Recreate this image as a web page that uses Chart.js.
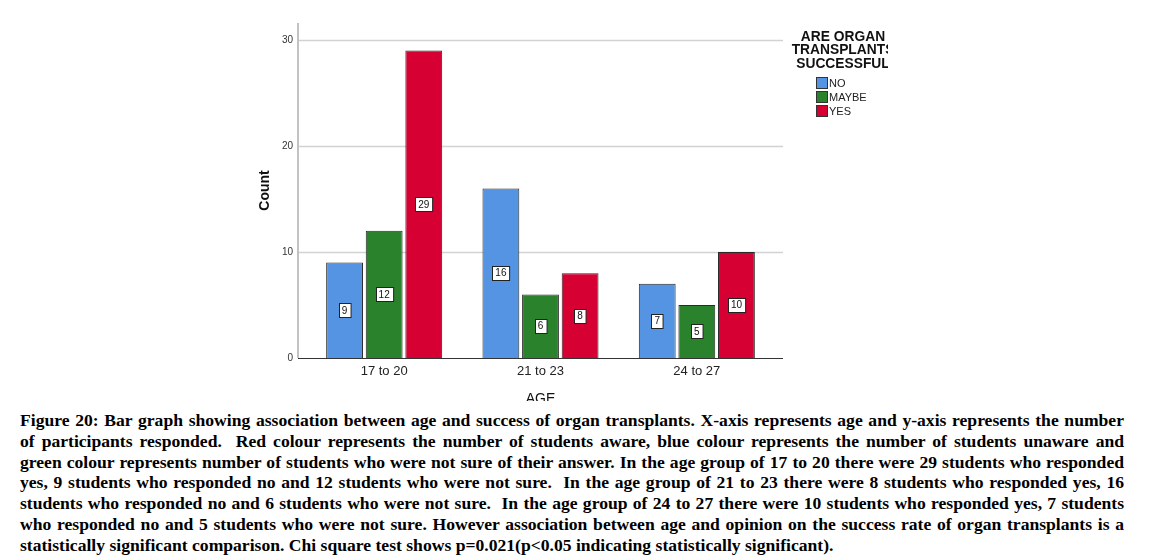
<!DOCTYPE html>
<html><head><meta charset="utf-8">
<script src="https://cdn.jsdelivr.net/npm/chart.js@4.4.0/dist/chart.umd.min.js"></script>
<style>
html,body{margin:0;padding:0;background:#fff;width:1166px;height:560px;overflow:hidden;}
#wrap{position:absolute;left:0;top:0;width:1166px;height:401px;overflow:hidden;}
#cv{display:block;}
#cap{position:absolute;left:20px;top:410px;width:1104px;font-family:"Liberation Serif","Times New Roman",serif;font-weight:bold;font-size:17.6px;line-height:20.8px;color:#000;}
#cap div{white-space:nowrap;text-align:justify;text-align-last:justify;}
#cap div.last{text-align-last:left;}
</style>
</head><body>
<div id="wrap"><canvas id="cv" width="1166" height="420"></canvas></div>
<div id="cap">
<div>Figure 20: Bar graph showing association between age and success of organ transplants. X-axis represents age and y-axis represents the number</div>
<div>of participants responded. &nbsp;Red colour represents the number of students aware, blue colour represents the number of students unaware and</div>
<div>green colour represents number of students who were not sure of their answer. In the age group of 17 to 20 there were 29 students who responded</div>
<div>yes, 9 students who responded no and 12 students who were not sure. &nbsp;In the age group of 21 to 23 there were 8 students who responded yes, 16</div>
<div>students who responded no and 6 students who were not sure. &nbsp;In the age group of 24 to 27 there were 10 students who responded yes, 7 students</div>
<div>who responded no and 5 students who were not sure. However association between age and opinion on the success rate of organ transplants is a</div>
<div class="last">statistically significant comparison. Chi square test shows p=0.021(p&lt;0.05 indicating statistically significant).</div>
</div>
<script>
const categories = ["17 to 20", "21 to 23", "24 to 27"];
const seriesNames = ["NO", "MAYBE", "YES"];
const noValues = [9, 16, 7];
const maybeValues = [12, 6, 5];
const yesValues = [29, 8, 10];
const yTicks = [0, 10, 20, 30];
const legendTitle = ["ARE ORGAN", "TRANSPLANTS", "SUCCESSFUL"];
const seriesColors = ["#5594e2", "#2a822d", "#d70032"];

const SANS = "'Liberation Sans', Arial, sans-serif";

const extrasPlugin = {
  id: 'extras',
  beforeDatasetsDraw(chart) {
    const ctx = chart.ctx, a = chart.chartArea, y = chart.scales.y;
    ctx.save();
    ctx.strokeStyle = '#d2d2d2';
    ctx.lineWidth = 1.5;
    yTicks.forEach(v => {
      if (v === 0) return;
      const py = Math.round(y.getPixelForValue(v)) + 0.5;
      ctx.beginPath(); ctx.moveTo(a.left - 8, py); ctx.lineTo(a.right + 8, py); ctx.stroke();
    });
    ctx.strokeStyle = '#c2c2c2';
    ctx.lineWidth = 2;
    ctx.beginPath(); ctx.moveTo(a.left - 8, a.top); ctx.lineTo(a.left - 8, a.bottom); ctx.stroke();
    ctx.restore();
  },
  afterDatasetsDraw(chart) {
    const ctx = chart.ctx, a = chart.chartArea;
    ctx.save();
    ctx.strokeStyle = '#333';
    ctx.lineWidth = 1;
    ctx.beginPath(); ctx.moveTo(a.left - 8, a.bottom + 0.5); ctx.lineTo(a.right + 8, a.bottom + 0.5); ctx.stroke();
    ctx.font = '10px ' + SANS;
    ctx.textAlign = 'center';
    ctx.textBaseline = 'middle';
    chart.data.datasets.forEach((ds, di) => {
      const meta = chart.getDatasetMeta(di);
      meta.data.forEach((el, i) => {
        const txt = String(ds.data[i]);
        const cx = el.x, cy = (el.y + el.base) / 2;
        const w = ctx.measureText(txt).width + 6, h = 14;
        const x0 = Math.round(cx - w / 2) + 0.5, y0 = Math.round(cy - h / 2) + 0.5;
        ctx.fillStyle = '#fff';
        ctx.fillRect(x0, y0, w, h);
        ctx.strokeStyle = '#222';
        ctx.lineWidth = 1;
        ctx.strokeRect(x0, y0, w, h);
        ctx.fillStyle = '#111';
        ctx.fillText(txt, cx, cy + 0.5);
      });
    });
    ctx.restore();
  },
  afterDraw(chart) {
    const ctx = chart.ctx;
    ctx.save();
    ctx.beginPath(); ctx.rect(780, 0, 108, 200); ctx.clip();
    ctx.fillStyle = '#111';
    ctx.font = 'bold 13.8px ' + SANS;
    ctx.textAlign = 'center';
    ctx.textBaseline = 'middle';
    legendTitle.forEach((t, i) => ctx.fillText(t, 843, 37 + i * 13.5));
    ctx.font = '11px ' + SANS;
    ctx.textAlign = 'left';
    chart.data.datasets.forEach((ds, i) => {
      const yy = 83 + i * 14;
      ctx.fillStyle = ds.backgroundColor;
      ctx.fillRect(816.5, yy - 5.5, 11, 11);
      ctx.strokeStyle = '#333';
      ctx.lineWidth = 1;
      ctx.strokeRect(816.5, yy - 5.5, 11, 11);
      ctx.fillStyle = '#222';
      ctx.fillText(ds.label, 829, yy + 0.5);
    });
    ctx.restore();
  }
};

const seriesData = [noValues, maybeValues, yesValues];
new Chart(document.getElementById('cv'), {
  type: 'bar',
  data: {
    labels: categories,
    datasets: seriesNames.map((n, i) => ({
      label: n,
      data: seriesData[i],
      backgroundColor: seriesColors[i],
      borderColor: '#2a2a2a',
      borderWidth: 1,
      barPercentage: 0.93,
      categoryPercentage: 0.76
    }))
  },
  options: {
    responsive: false,
    animation: false,
    devicePixelRatio: 1,
    layout: { padding: { left: 250, top: 23, right: 391, bottom: 0 } },
    plugins: { legend: { display: false }, tooltip: { enabled: false } },
    scales: {
      x: {
        grid: { display: false, drawTicks: false },
        border: { display: false },
        ticks: { color: '#222', font: { family: SANS, size: 13 }, padding: 6 },
        title: { display: true, text: 'AGE', color: '#111', font: { family: SANS, size: 14 }, padding: { top: 0, bottom: 12 } },
        afterFit: s => { s.height = 62; }
      },
      y: {
        min: 0, max: 31.6,
        grid: { display: false, drawTicks: false },
        border: { display: false },
        afterBuildTicks: s => { s.ticks = yTicks.map(v => ({ value: v })); },
        ticks: { color: '#333', font: { family: SANS, size: 10 }, padding: 13 },
        title: { display: true, text: 'Count', color: '#111', font: { family: SANS, size: 14, weight: 'bold' }, padding: { top: 7, bottom: 0 } },
        afterFit: s => { s.width = 56; }
      }
    }
  },
  plugins: [extrasPlugin]
});
</script>
</body></html>
